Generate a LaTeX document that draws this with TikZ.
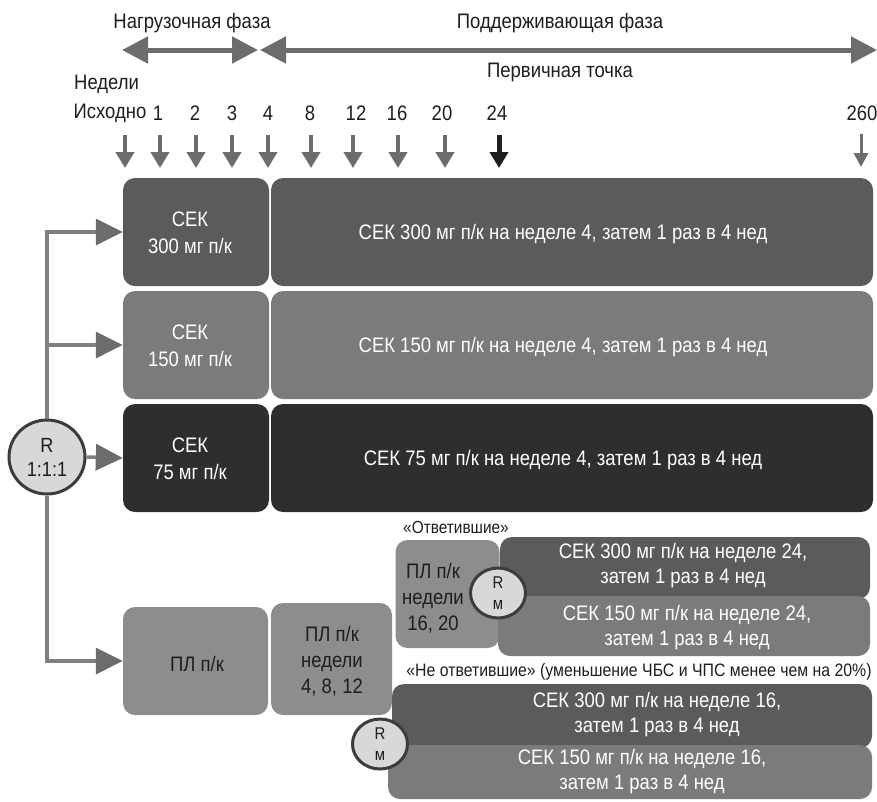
\documentclass[tikz,border=0pt]{standalone}
\usepackage{fontspec}
\setmainfont{Liberation Sans}[FakeStretch=0.88]
\usetikzlibrary{arrows.meta,calc,positioning,shapes.geometric}
\definecolor{rowA}{HTML}{5B5B5B}
\definecolor{rowB}{HTML}{7B7B7B}
\definecolor{rowC}{HTML}{2E2E2E}
\definecolor{plgray}{HTML}{8D8D8D}
\definecolor{arrgray}{HTML}{6C6C6C}
\definecolor{linegray}{HTML}{808080}
\definecolor{discfill}{HTML}{D8D8D8}
\definecolor{discline}{HTML}{3C3C3C}
\definecolor{ink}{HTML}{1E1E1E}

\begin{document}
\begin{tikzpicture}[x=1pt,y=-1pt,
    txt/.style={font=\fontsize{21}{26}\selectfont, text=ink, inner sep=0pt, align=center},
    wtxt/.style={txt, text=white},
    small/.style={font=\fontsize{17.5}{20}\selectfont, text=ink, inner sep=0pt},
    box/.style={rounded corners=12pt, inner sep=0pt},
    plbox/.style={box, fill=plgray},
    disc/.style={ellipse, fill=discfill, draw=discline, line width=3pt, inner sep=0pt,
        align=center, text=ink},
    phase/.style={draw=arrgray, line width=5pt,
        {Triangle[length=26pt,width=26pt]}-{Triangle[length=26pt,width=26pt]}},
    wkarrow/.style={draw=arrgray, line width=4pt, -{Triangle[length=16pt,width=18pt]}},
    branch/.style={draw=linegray, line width=3.5pt,
        -{Triangle[length=27pt,width=26pt,color=arrgray]}}]

    \useasboundingbox (0,0) rectangle (877,801);

    % Draw phase arrows.
    \coordinate (ph0) at (122,50);
    \coordinate (ph1) at (258,50);
    \coordinate (ph2) at (260,50);
    \coordinate (ph3) at (877,50);
    \draw[phase] (ph0) -- (ph1);
    \draw[phase] (ph2) -- (ph3);
    \node[txt] (load) at (192,23) {Нагрузочная фаза};
    \node[txt] (maint) at (560,23) {Поддерживающая фаза};
    \node[txt] (prim) at (560,72) {Первичная точка};

    % Draw week labels.
    \node[txt, anchor=west] (weeks) at (74,84) {Недели};
    \foreach \x/\w [count=\i] in {110/Исходно,158/1,195/2,232/3,268/4,310/8,356/12,397/16,442/20,497/24,862/260}
        \node[txt] (w\i) at (\x,113) {\w};

    % Draw week arrows.
    \foreach \x [count=\i] in {125,160,196,232,268,311,353,398,445}
        \draw[wkarrow] (\x,135) coordinate (a\i) -- ++(0,33);
    \draw[wkarrow, draw=ink, line width=5pt] (499,135) coordinate (a10) -- ++(0,33);
    \draw[wkarrow, line width=3pt, -{Triangle[length=14pt,width=14pt]}] (861,134) coordinate (a11) -- ++(0,33);

    % Draw dose rows.
    \foreach \y/\c/\d [count=\i] in {232/rowA/300,345/rowB/150,458/rowC/75} {
        \node[box, fill=\c, minimum width=146, minimum height=108] (sek\i a) at (196,\y) {};
        \node[box, fill=\c, minimum width=602, minimum height=108] (sek\i b) at (572,\y) {};
        \node[wtxt, font=\fontsize{21}{27}\selectfont] (sek\i ta) at (190,\y+1) {СЕК\\\d\ мг п/к};
        \node[wtxt] (sek\i tb) at (563,\y+2) {СЕК \d\ мг п/к на неделе 4, затем 1 раз в 4 нед};
    }

    % Draw placebo boxes.
    \node[plbox, minimum width=145, minimum height=108] (pl1) at (195.5,661) {};
    \node[txt] (pl1t) at (197,664) {ПЛ п/к};
    \node[plbox, minimum width=121, minimum height=112] (pl2) at (331.5,659) {};
    \node[txt] (pl2t) at (332,661) {ПЛ п/к\\недели\\4, 8, 12};
    \node[plbox, minimum width=104, minimum height=108] (pl3) at (447.5,594) {};
    \node[txt] (pl3t) at (433,598) {ПЛ п/к\\недели\\16, 20};

    % Draw responders.
    \node[small] (resp) at (456,527) {«Ответившие»};
    \node[box, fill=rowA, minimum width=370, minimum height=62] (r24a) at (685,568) {};
    \node[box, fill=rowB, minimum width=372, minimum height=60] (r24b) at (684,626) {};
    \node[wtxt, font=\fontsize{21}{25}\selectfont] (r24at) at (683,565.5) {СЕК 300 мг п/к на неделе 24,\\затем 1 раз в 4 нед};
    \node[wtxt, font=\fontsize{21}{25}\selectfont] (r24bt) at (687,628) {СЕК 150 мг п/к на неделе 24,\\затем 1 раз в 4 нед};
    \node[disc, minimum width=55, minimum height=50, font=\fontsize{17}{21}\selectfont] (rm1) at (498,593) {R\\м};

    % Draw non-responders.
    \node[small, font=\fontsize{18}{20}\selectfont] (nonresp) at (639,672) {«Не ответившие» (уменьшение ЧБС и ЧПС менее чем на 20\%)};
    \node[box, fill=rowA, minimum width=480, minimum height=64] (r16a) at (632,716) {};
    \node[box, fill=rowB, minimum width=484, minimum height=54] (r16b) at (630,772) {};
    \node[wtxt, font=\fontsize{21}{25}\selectfont] (r16at) at (657,714.5) {СЕК 300 мг п/к на неделе 16,\\затем 1 раз в 4 нед};
    \node[wtxt, font=\fontsize{21}{25}\selectfont] (r16bt) at (642,772) {СЕК 150 мг п/к на неделе 16,\\затем 1 раз в 4 нед};
    \node[disc, minimum width=55, minimum height=50, font=\fontsize{17}{21}\selectfont] (rm2) at (380,744) {R\\м};

    % Draw randomisation tree.
    \node[disc, minimum width=76, minimum height=74, font=\fontsize{20.5}{24}\selectfont] (R) at (47,457) {R\\1:1:1};
    \draw[branch] (R.north) |- (sek1a.west);
    \draw[branch] (R.north) |- (sek2a.west);
    \draw[branch] (R.east) -- (sek3a.west);
    \draw[branch] (R.south) |- (pl1.west);

\end{tikzpicture}
\end{document}
